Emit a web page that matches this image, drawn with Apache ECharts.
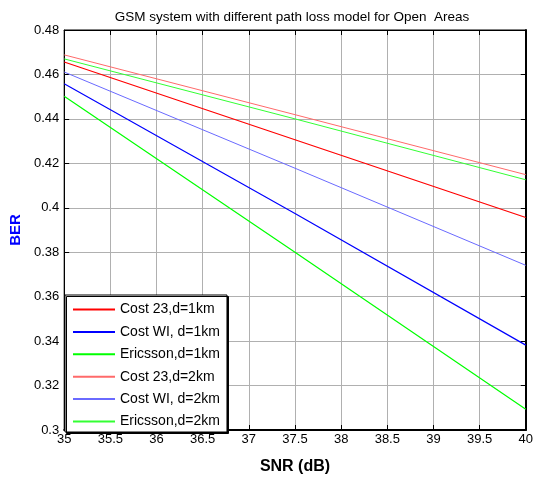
<!DOCTYPE html>
<html><head><meta charset="utf-8">
<script src="https://cdn.jsdelivr.net/npm/echarts@6/dist/echarts.min.js"></script>
<style>html,body{margin:0;padding:0;background:#fff}#c{width:536px;height:480px}</style>
</head><body><div id="c"></div>
<script>
const snr = [35, 37.5, 40];
const xTicks = [35, 35.5, 36, 36.5, 37, 37.5, 38, 38.5, 39, 39.5, 40];
const seriesNames = ['Cost 23,d=1km', 'Cost WI, d=1km', 'Ericsson,d=1km', 'Cost 23,d=2km', 'Cost WI, d=2km', 'Ericsson,d=2km'];
const cost23_1km = [0.4656, 0.4306, 0.3956];
const costWI_1km = [0.4558, 0.3974, 0.3382];
const ericsson_1km = [0.4502, 0.3800, 0.3093];
const cost23_2km = [0.4688, 0.4419, 0.4149];
const costWI_2km = [0.4611, 0.4178, 0.3741];
const ericsson_2km = [0.4670, 0.4400, 0.4126];
const allData = [cost23_1km, costWI_1km, ericsson_1km, cost23_2km, costWI_2km, ericsson_2km];
const colors = ['#ff0000', '#0000ff', '#00ff00', '#ff6a6a', '#6a6aff', '#33ff33'];
const widths = [1.2, 1.2, 1.2, 1, 1, 1];

const chart = echarts.init(document.getElementById('c'), null, {renderer: 'canvas'});
const font = 'Arial, "Liberation Sans", sans-serif';
const series = seriesNames.map((n, i) => ({
  name: n, type: 'line', symbol: 'none', xAxisIndex: 0, yAxisIndex: 0,
  data: snr.map((x, j) => [x, allData[i][j]]),
  lineStyle: {color: colors[i], width: widths[i]}, itemStyle: {color: colors[i]},
  z: 3
}));
const gridLine = {show: true, lineStyle: {color: '#b0b0b0', width: 1}};
chart.setOption({
  animation: false,
  title: {text: 'GSM system with different path loss model for Open  Areas', left: 287, textAlign: 'center', top: 5,
    textStyle: {fontFamily: font, fontSize: 13.5, fontWeight: 'normal', color: '#000'}},
  grid: {left: 63, right: 7, top: 30, bottom: 47, show: true, borderColor: '#000', borderWidth: 1, backgroundColor: '#fff'},
  legend: {
    orient: 'vertical', left: 65, top: 295, z: 10,
    backgroundColor: '#fff', borderColor: '#000', borderWidth: 1,
    shadowColor: '#000', shadowOffsetX: 1.5, shadowOffsetY: 1.5, shadowBlur: 0,
    padding: [7, 7, 3, 8], itemWidth: 42, itemHeight: 2, itemGap: 7.4,
    icon: 'rect',
    textStyle: {fontFamily: font, fontSize: 14, color: '#000', padding: [0, 0, 0, 0], lineHeight: 15},
    data: seriesNames
  },
  xAxis: [{
    type: 'value', min: 35, max: 40, interval: 0.5, position: 'bottom',
    name: 'SNR (dB)', nameLocation: 'middle', nameGap: 29,
    nameTextStyle: {fontFamily: font, fontSize: 16, fontWeight: 'bold', color: '#000'},
    axisLine: {show: true, onZero: false, lineStyle: {color: '#000', width: 2}},
    axisTick: {show: true, inside: true, length: 5, lineStyle: {color: '#000'}},
    axisLabel: {fontFamily: font, fontSize: 13, color: '#000', margin: 3,
      formatter: v => xTicks.includes(v) ? String(v) : ''},
    splitLine: gridLine
  }, {
    type: 'value', min: 35, max: 40, interval: 0.5, position: 'top',
    axisLine: {show: true, lineStyle: {color: '#000', width: 1}},
    axisTick: {show: true, inside: true, length: 5, lineStyle: {color: '#000'}},
    axisLabel: {show: false}, splitLine: {show: false}
  }],
  yAxis: [{
    type: 'value', min: 0.3, max: 0.48, interval: 0.02, position: 'left',
    name: 'BER', nameLocation: 'middle', nameGap: 34,
    nameTextStyle: {fontFamily: font, fontSize: 15, fontWeight: 'bold', color: '#0000ff'},
    axisLine: {show: true, onZero: false, lineStyle: {color: '#000', width: 1}},
    axisTick: {show: true, inside: true, length: 5, lineStyle: {color: '#000'}},
    axisLabel: {fontFamily: font, fontSize: 13, color: '#000', margin: 5,
      formatter: v => String(+v.toFixed(2))},
    splitLine: gridLine
  }, {
    type: 'value', min: 0.3, max: 0.48, interval: 0.02, position: 'right',
    axisLine: {show: true, lineStyle: {color: '#000', width: 2}},
    axisTick: {show: true, inside: true, length: 5, lineStyle: {color: '#000'}},
    axisLabel: {show: false}, splitLine: {show: false}
  }],
  series: series
});
</script></body></html>
